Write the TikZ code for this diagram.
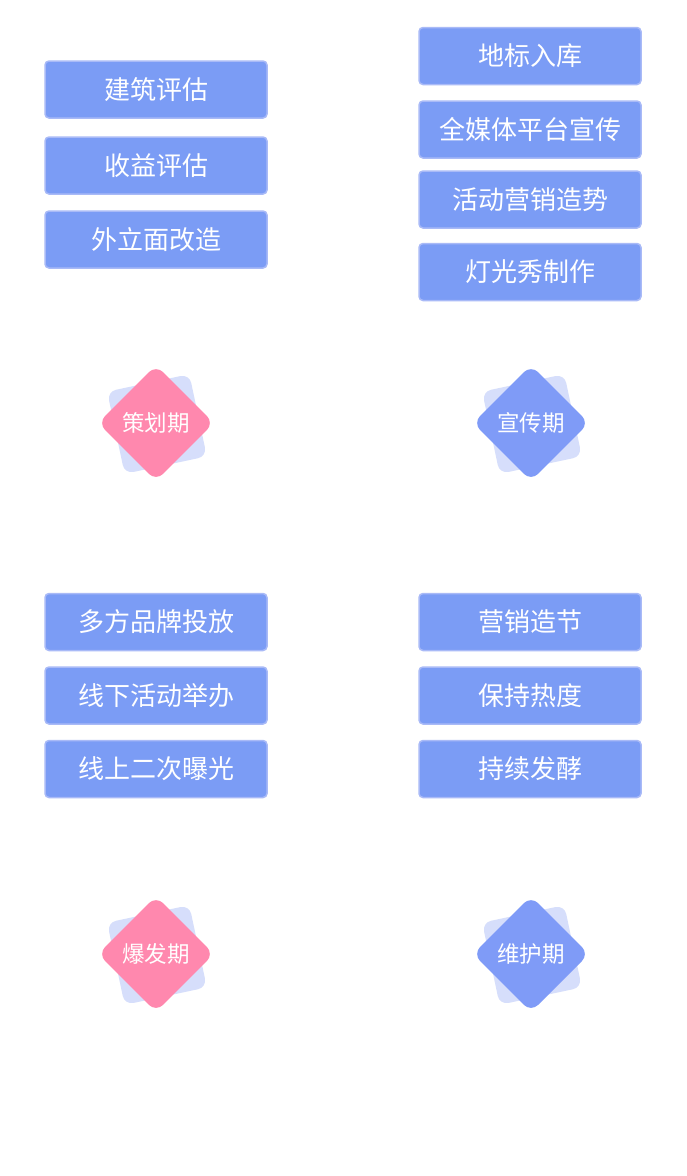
\documentclass[tikz,border=0pt]{standalone}
\usepackage{fontspec}
\setmainfont{Noto Sans CJK SC}
\definecolor{boxfill}{HTML}{7B9CF5}
\definecolor{boxedge}{HTML}{A9BAF7}
\definecolor{pinkd}{HTML}{FF88AE}
\definecolor{blued}{HTML}{7F9BF7}
\definecolor{backsq}{HTML}{D6DEFB}
\tikzset{
  itembox/.style={draw=boxedge, line width=1.5pt, fill=boxfill, rounded corners=4pt,
    minimum width=222pt, minimum height=57pt, inner sep=0pt,
    text=white, font=\fontsize{26}{26}\selectfont},
  diabox/.style={rounded corners=10pt, minimum width=82pt, minimum height=82pt,
    inner sep=0pt, rotate=45, draw=none},
  backbox/.style={fill=backsq, rounded corners=9pt, minimum width=84pt, minimum height=84pt,
    inner sep=0pt, rotate=12, draw=none},
  dialabel/.style={text=white, font=\fontsize{22.5}{22.5}\selectfont, inner sep=0pt}
}
\begin{document}
\begin{tikzpicture}[x=1pt,y=-1pt]
\useasboundingbox[fill=white] (0,0) rectangle (686,1176);
% left top column
\node[itembox] (a1) at (156,89.5) {建筑评估};
\node[itembox] (a2) at (156,165.5) {收益评估};
\node[itembox] (a3) at (156,239.5) {外立面改造};
% right top column
\node[itembox] (b1) at (530,56) {地标入库};
\node[itembox] (b2) at (530,129.5) {全媒体平台宣传};
\node[itembox] (b3) at (530,199.5) {活动营销造势};
\node[itembox] (b4) at (530,272) {灯光秀制作};
% left bottom column
\node[itembox] (c1) at (156,622) {多方品牌投放};
\node[itembox] (c2) at (156,695.5) {线下活动举办};
\node[itembox] (c3) at (156,769) {线上二次曝光};
% right bottom column
\node[itembox] (e1) at (530,622) {营销造节};
\node[itembox] (e2) at (530,695.5) {保持热度};
\node[itembox] (e3) at (530,769) {持续发酵};
% diamonds
\node[backbox] (s1) at (157,424) {};
\node[diabox, fill=pinkd] (d1) at (156,423) {};
\node[dialabel] (t1) at (d1.center) {策划期};
\node[backbox] (s2) at (532,424) {};
\node[diabox, fill=blued] (d2) at (531,423) {};
\node[dialabel] (t2) at (d2.center) {宣传期};
\node[backbox] (s3) at (157,955) {};
\node[diabox, fill=pinkd] (d3) at (156,954) {};
\node[dialabel] (t3) at (d3.center) {爆发期};
\node[backbox] (s4) at (532,955) {};
\node[diabox, fill=blued] (d4) at (531,954) {};
\node[dialabel] (t4) at (d4.center) {维护期};
\end{tikzpicture}
\end{document}
